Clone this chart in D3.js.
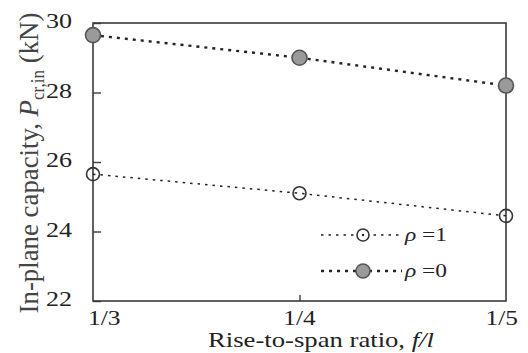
<!DOCTYPE html>
<html><head><meta charset="utf-8">
<script src="https://cdn.jsdelivr.net/npm/d3@7"></script>
<style>body{margin:0;background:#fff}svg{display:block}text{font-family:"Liberation Serif","Times New Roman",serif;fill:#222}</style>
</head><body>
<svg id="c" width="528" height="353"></svg>
<script>
const categories = ["1/3", "1/4", "1/5"];
const rho1 = [25.65, 25.1, 24.45];
const rho0 = [29.65, 29.0, 28.2];
const yTicks = [22, 24, 26, 28, 30];
const seriesNames = ["ρ =1", "ρ =0"];

const svg = d3.select("#c");
const m = {l: 93, r: 506, t: 23, b: 301};
const x = d3.scalePoint().domain(categories).range([m.l, m.r]);
const y = d3.scaleLinear().domain([22, 30]).range([m.b, m.t]);
const SX = 1.27; // horizontal stretch of the reference's lettering

function stretched(g, px, py, size, anchor, sx) {
  return g.append("text").attr("transform", `translate(${px},${py}) scale(${sx || SX},1)`)
    .attr("text-anchor", anchor).style("font-size", size + "px");
}

// frame
svg.append("rect").attr("x", m.l).attr("y", m.t).attr("width", m.r - m.l).attr("height", m.b - m.t)
  .attr("fill", "none").attr("stroke", "#3a3a3a").attr("stroke-width", 1.6);

// y axis ticks (inward)
const ya = svg.append("g").attr("transform", `translate(${m.l},0)`)
  .call(d3.axisRight(y).tickValues(yTicks).tickSize(8).tickFormat(""));
ya.select(".domain").remove();
ya.selectAll("line").attr("stroke", "#3a3a3a").attr("stroke-width", 1.4);
const yl = svg.append("g");
yTicks.forEach(d => stretched(yl, 72, y(d) + 5, 20.5, "end").text(d));

// x axis ticks (inward) for middle category
const xa = svg.append("g").attr("transform", `translate(0,${m.b})`)
  .call(d3.axisTop(x).tickValues([categories[1]]).tickSize(6).tickFormat(""));
xa.select(".domain").remove();
xa.selectAll("line").attr("stroke", "#3a3a3a").attr("stroke-width", 1.4);
const xl = svg.append("g");
categories.forEach((d, i) => {
  const anchor = i === 0 ? "start" : i === 2 ? "end" : "middle";
  const off = i === 0 ? -5 : i === 2 ? 12 : 0;
  stretched(xl, x(d) + off, 325, 20, anchor).text(d);
});

// axis titles
const xt = stretched(svg, 321, 347, 21, "middle");
xt.append("tspan").text("Rise-to-span ratio, ");
xt.append("tspan").style("font-style", "italic").text("f/l");

const yt = svg.append("text").attr("text-anchor", "middle").style("font-size", "22px").style("fill", "#444");
yt.append("tspan").text("In-plane capacity, ");
yt.append("tspan").style("font-style", "italic").text("P");
yt.append("tspan").attr("dy", 5).style("font-size", "14px").text("cr,in");
yt.append("tspan").attr("dy", -5).text(" (kN)");
const ylen = yt.node().getComputedTextLength();
yt.attr("transform", `translate(38,163) rotate(-90) scale(${301 / ylen},${SX})`);

// lines
const line = d3.line().x((d, i) => x(categories[i])).y(d => y(d));
const styles = [
  {data: rho1, w: 1.5, dash: "2.5,5", fill: "none", stroke: "#333", r: 6.5},
  {data: rho0, w: 2.4, dash: "3,5", fill: "#9a9a9a", stroke: "#555", r: 7.5}
];
styles.forEach(s => {
  svg.append("path").datum(s.data).attr("d", line).attr("fill", "none")
    .attr("stroke", "#222").attr("stroke-width", s.w).attr("stroke-dasharray", s.dash);
  svg.append("g").selectAll("circle").data(s.data).join("circle")
    .attr("cx", (d, i) => x(categories[i])).attr("cy", d => y(d)).attr("r", s.r)
    .attr("fill", s.fill).attr("stroke", s.stroke).attr("stroke-width", 1.6);
});

// legend
const ly = [235, 271];
styles.forEach((s, i) => {
  const g = svg.append("g");
  g.append("line").attr("x1", 321).attr("x2", 402).attr("y1", ly[i]).attr("y2", ly[i])
    .attr("stroke", "#222").attr("stroke-width", s.w).attr("stroke-dasharray", s.dash);
  g.append("circle").attr("cx", 363).attr("cy", ly[i]).attr("r", s.r - 0.5)
    .attr("fill", s.fill === "none" ? "#fff" : s.fill).attr("stroke", s.stroke).attr("stroke-width", 1.6);
  if (s.fill === "none") g.append("circle").attr("cx", 363).attr("cy", ly[i]).attr("r", 1.2).attr("fill", "#222");
  const t = stretched(g, 405, ly[i] + 6, 18, "start", 1.3);
  t.append("tspan").style("font-style", "italic").text(seriesNames[i].split(" ")[0]);
  t.append("tspan").text(" " + seriesNames[i].split(" ")[1]);
});
</script>
</body></html>
